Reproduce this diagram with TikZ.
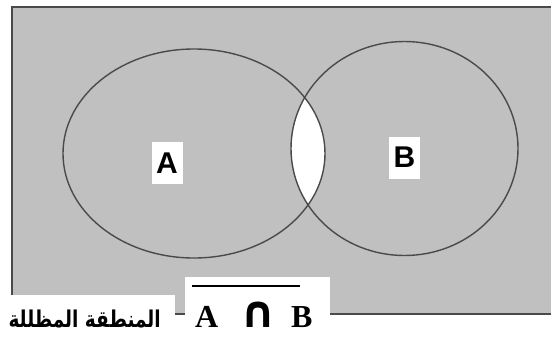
\documentclass[tikz,border=0pt]{standalone}
\usepackage{fontspec}
\usepackage{graphicx}
\setmainfont{Liberation Serif}
\newfontfamily\labelfont{Liberation Sans}
\newfontfamily\symfont{DejaVu Sans}
\newfontfamily\arabicfont[Script=Arabic]{DejaVu Sans}
\TeXXeTstate=1
\definecolor{shade}{HTML}{C0C0C0}
\definecolor{edge}{HTML}{4A4A4A}
\begin{document}
\begin{tikzpicture}[x=1pt,y=-1pt,
  setlabel/.style={fill=white,minimum width=31pt,minimum height=42pt,inner sep=0pt,font=\labelfont\bfseries\fontsize{30}{30}\selectfont},
  formula/.style={anchor=base west,inner sep=0pt,font=\bfseries\fontsize{32}{32}\selectfont},
  curve/.style={draw=edge,line width=1.4pt}]
\useasboundingbox (0,0) rectangle (551,338);
\clip (0,0) rectangle (551,338);
\fill[white] (0,0) rectangle (551,338);
% universe
\draw[fill=shade,draw=edge,line width=2pt] (12,7) rectangle (570,314);
% intersection (white lens)
\begin{scope}
  \clip (194,153.5) ellipse [x radius=131, y radius=104.5];
  \fill[white] (404.5,148.5) ellipse [x radius=113.5, y radius=107];
\end{scope}
\draw[curve] (194,153.5) ellipse [x radius=131, y radius=104.5];
\draw[curve] (404.5,148.5) ellipse [x radius=113.5, y radius=107];
\node[setlabel] (A) at (167,163) {A};
\node[setlabel] (B) at (404.5,157.5) {B};
% caption boxes
\fill[white] (0,295) rectangle (175,338);
\fill[white] (185,277) rectangle (330,338);
\node[anchor=base east,inner sep=0pt,font=\arabicfont\bfseries\fontsize{18.5}{18.5}\selectfont] (cap) at (161,327) {\scalebox{1}[1.25]{\beginR المنطقة المظللة\endR}};
\node[formula] (fa) at (195,327) {A};
\node[formula,font=\symfont\bfseries\fontsize{44}{44}\selectfont] (fcap) at (240,327) {∩};
\node[formula] (fb) at (291,327) {B};
\draw[line width=1.2pt] (192,286) -- (300,286);
\end{tikzpicture}
\end{document}
